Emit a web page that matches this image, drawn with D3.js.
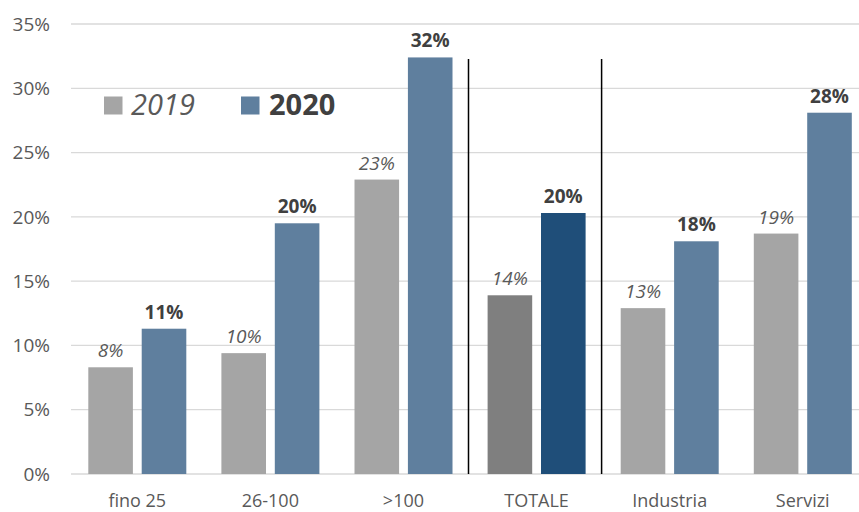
<!DOCTYPE html>
<html>
<head>
<meta charset="utf-8">
<script src="https://cdn.jsdelivr.net/npm/d3@7"></script>
<style>
  body { margin: 0; background: #fff; }
  text { font-family: "Open Sans", sans-serif; }
</style>
</head>
<body>
<div id="chart"></div>
<script>
// Data
const categories = ["fino 25", "26-100", ">100", "TOTALE", "Industria", "Servizi"];
const years = ["2019", "2020"];
const values2019 = [0.083, 0.094, 0.229, 0.139, 0.129, 0.187];
const values2020 = [0.113, 0.195, 0.324, 0.203, 0.181, 0.281];
const labels2019 = ["8%", "10%", "23%", "14%", "13%", "19%"];
const labels2020 = ["11%", "20%", "32%", "20%", "18%", "28%"];
const yTicks = [0, 0.05, 0.10, 0.15, 0.20, 0.25, 0.30, 0.35];
// vertical separators sit after these categories
const separatorsAfter = [">100", "TOTALE"];

const W = 859, H = 512;
const colors = { "2019": "#a5a5a5", "2020": "#5f7f9e" };
const totalColors = { "2019": "#7f7f7f", "2020": "#1f4e79" };

const svg = d3.select("#chart")
  .append("svg")
  .attr("width", W)
  .attr("height", H);

// Scales
const x = d3.scaleBand()
  .domain(categories)
  .range([70.7, 869.3])
  .padding(0);

const x1 = d3.scaleBand()
  .domain(years)
  .range([17.6, 115.6])
  .paddingInner(0.165)
  .paddingOuter(0);

const y = d3.scaleLinear()
  .domain([0, 0.35])
  .range([474, 24]);

// Gridlines
svg.append("g")
  .selectAll("line")
  .data(yTicks)
  .join("line")
  .attr("x1", 71)
  .attr("x2", W)
  .attr("y1", d => y(d))
  .attr("y2", d => y(d))
  .attr("stroke", "#d9d9d9")
  .attr("stroke-width", 1.3);

// Y tick labels
svg.append("g")
  .selectAll("text")
  .data(yTicks)
  .join("text")
  .attr("x", 50)
  .attr("y", d => y(d))
  .attr("dy", "0.35em")
  .attr("text-anchor", "end")
  .attr("font-size", "19px")
  .attr("fill", "#595959")
  .text(d => d3.format(".0%")(d));

// Bars
const rows = categories.map((c, i) => ({
  cat: c,
  items: [
    { year: "2019", v: values2019[i], label: labels2019[i] },
    { year: "2020", v: values2020[i], label: labels2020[i] }
  ]
}));

const groups = svg.append("g")
  .selectAll("g")
  .data(rows)
  .join("g")
  .attr("transform", d => `translate(${x(d.cat)},0)`);

groups.selectAll("rect")
  .data(d => d.items.map(it => ({ ...it, cat: d.cat })))
  .join("rect")
  .attr("x", d => x1(d.year))
  .attr("y", d => y(d.v))
  .attr("width", x1.bandwidth())
  .attr("height", d => y(0) - y(d.v))
  .attr("fill", d => d.cat === "TOTALE" ? totalColors[d.year] : colors[d.year]);

// Value labels
groups.selectAll("text")
  .data(d => d.items)
  .join("text")
  .attr("x", d => x1(d.year) + x1.bandwidth() / 2)
  .attr("y", d => y(d.v) - 10)
  .attr("text-anchor", "middle")
  .attr("font-size", "19px")
  .attr("font-style", d => d.year === "2019" ? "italic" : "normal")
  .attr("font-weight", d => d.year === "2019" ? "normal" : "bold")
  .attr("fill", d => d.year === "2019" ? "#595959" : "#404040")
  .text(d => d.label);

// Category labels
svg.append("g")
  .selectAll("text")
  .data(categories)
  .join("text")
  .attr("x", d => x(d) + x.bandwidth() / 2)
  .attr("y", 507)
  .attr("text-anchor", "middle")
  .attr("font-size", "18px")
  .attr("fill", "#595959")
  .text(d => d);

// Separators
svg.append("g")
  .selectAll("line")
  .data(separatorsAfter)
  .join("line")
  .attr("x1", d => x(d) + x.bandwidth() - 1.5)
  .attr("x2", d => x(d) + x.bandwidth() - 1.5)
  .attr("y1", 59)
  .attr("y2", y(0))
  .attr("stroke", "#000")
  .attr("stroke-width", 1.5);

// Legend
const legend = svg.append("g");
legend.append("rect")
  .attr("x", 104).attr("y", 96.5)
  .attr("width", 18.5).attr("height", 18)
  .attr("fill", colors["2019"]);
legend.append("text")
  .attr("x", 131).attr("y", 115)
  .attr("font-size", "29px")
  .attr("font-style", "italic")
  .attr("fill", "#595959")
  .text("2019");
legend.append("rect")
  .attr("x", 241).attr("y", 96.5)
  .attr("width", 18.5).attr("height", 18)
  .attr("fill", colors["2020"]);
legend.append("text")
  .attr("x", 269).attr("y", 115)
  .attr("font-size", "29px")
  .attr("font-weight", "bold")
  .attr("fill", "#404040")
  .text("2020");
</script>
</body>
</html>
